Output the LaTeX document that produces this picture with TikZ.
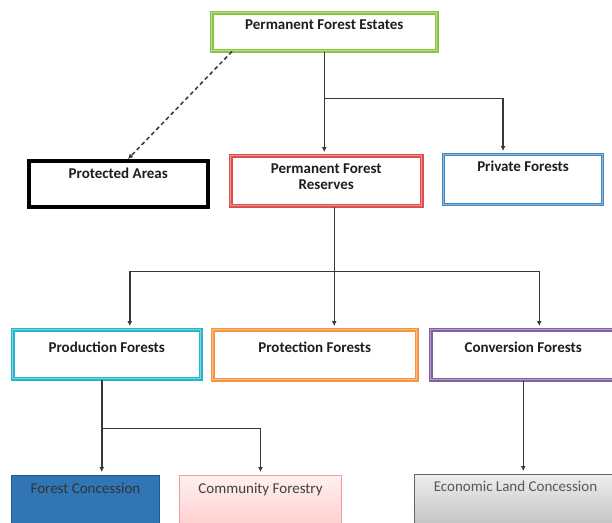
\documentclass[tikz,border=0pt]{standalone}
\usepackage{fontspec}
\setmainfont{Carlito}
\usepackage{tikz}
\usetikzlibrary{arrows.meta,positioning,calc}
\definecolor{estgreen}{RGB}{140,196,72}
\definecolor{resred}{RGB}{222,78,78}
\definecolor{privblue}{RGB}{66,134,198}
\definecolor{prodcyan}{RGB}{38,182,204}
\definecolor{protorange}{RGB}{247,148,64}
\definecolor{convpurple}{RGB}{128,96,160}
\definecolor{fcblue}{RGB}{48,118,180}
\definecolor{linegray}{RGB}{55,55,55}
\definecolor{textgray}{RGB}{30,30,30}

\begin{document}
\begin{tikzpicture}[x=1pt, y=-1pt,
    box/.style={draw, inner sep=0pt, anchor=north west, align=center,
        font=\fontsize{15}{16}\selectfont\bfseries, text=textgray},
    framed/.style={box, draw=#1, line width=1.5pt, double=#1!60, double distance=0.6pt},
    leaf/.style={box, line width=1pt, font=\fontsize{15}{16}\selectfont},
    link/.style={draw=linegray, line width=1.5pt},
    arr/.style={link, -{Latex[length=5pt,width=5pt]}, shorten >=3pt},
]
    \useasboundingbox (0,0) rectangle (612,522);
    \fill[white] (0,0) rectangle (612,522);

    % top level
    \node[framed=estgreen, minimum width=225pt, text height=17pt, text depth=21pt] (est) at (211,12) {Permanent Forest Estates};

    % second row
    \node[box, line width=3.5pt, minimum width=179pt, text height=18pt, text depth=28pt] (prot) at (27,159) {Protected Areas};
    \node[framed=resred, minimum width=191pt, text height=34pt, text depth=16pt] (pfr) at (230,155) {Permanent Forest\\Reserves};
    \node[framed=privblue, line width=1.1pt, minimum width=159pt, text height=17pt, text depth=33pt] (priv) at (443,154) {Private Forests};

    % third row
    \node[framed=prodcyan, minimum width=188pt, text height=23pt, text depth=26pt] (prod) at (12,329) {Production Forests};
    \node[framed=protorange, minimum width=204pt, text height=23pt, text depth=27pt] (prtn) at (212,329) {Protection Forests};
    \node[framed=convpurple, minimum width=185pt, text height=23pt, text depth=27pt] (conv) at (430,329) {Conversion Forests};

    % bottom row
    \node[leaf, draw=fcblue!75!black, fill=fcblue, text=black!80, minimum width=148pt, text height=18pt, text depth=37pt] (fc) at (11,475) {Forest Concession};
    \node[leaf, draw=resred!55, top color=red!6, bottom color=red!20, text=black!75, minimum width=162pt, text height=18pt, text depth=37pt] (cf) at (179,475) {Community Forestry};
    \node[leaf, draw=black!60, top color=black!7, bottom color=black!25, text=black!65, minimum width=202pt, text height=17pt, text depth=38pt] (elc) at (414,474) {Economic Land Concession};

    % connectors
    \draw[link, dashed, dash pattern=on 4pt off 3pt, -{Latex[length=5pt,width=5pt]}] ([xshift=21pt]est.south west) -- ([xshift=101pt]prot.north west);
    \draw[arr] (est.south) -- (est.south |- pfr.north);
    \coordinate (j1) at ($(est.south)+(0,47)$);
    \draw[arr] (j1) -| ([xshift=-20pt]priv.north);

    \coordinate (j2) at ($([xshift=8pt]pfr.south)+(0,65)$);
    \draw[arr] ([xshift=8pt]pfr.south) -- ([xshift=8pt]pfr.south |- prtn.north);
    \draw[arr] (j2) -| ([xshift=23pt]prod.north);
    \draw[arr] (j2) -| ([xshift=16pt]conv.north);

    \coordinate (j3) at ($([xshift=-5pt]prod.south)+(0,49)$);
    \draw[arr] ([xshift=-5pt]prod.south) -- ([xshift=-5pt]prod.south |- fc.north);
    \draw[arr] (j3) -| (cf.north);
    \draw[arr] (conv.south) -- (conv.south |- elc.north);
\end{tikzpicture}
\end{document}
